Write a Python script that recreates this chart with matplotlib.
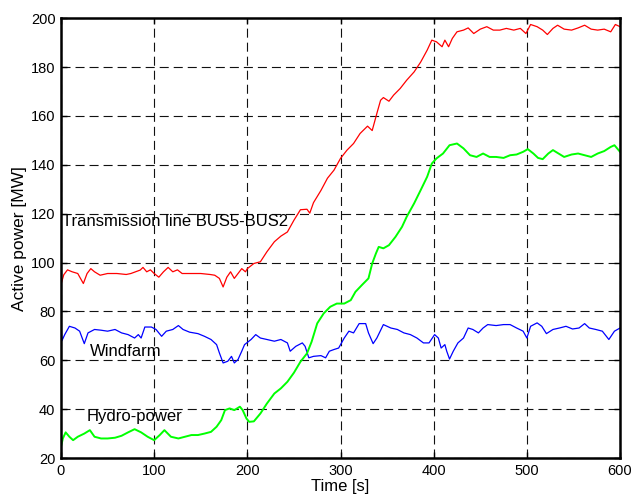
import matplotlib
matplotlib.use("Agg")
import matplotlib.pyplot as plt

plt.rcParams['font.family'] = ['Liberation Sans', 'DejaVu Sans']
plt.rcParams['lines.scale_dashes'] = False

# Transmission line BUS5-BUS2 (red)
t_red = [0, 3, 7, 12, 18, 24, 28, 32, 36, 42, 50, 60, 70, 75, 80, 85, 88, 92, 96, 100,
         105, 110, 115, 120, 125, 130, 140, 150, 160, 165, 170, 174, 178, 182, 186, 190,
         194, 198, 200, 207, 214, 221, 229, 236, 243, 250, 257, 264, 267, 271, 279, 286,
         293, 300, 307, 314, 321, 329, 334, 339, 343, 346, 352, 357, 364, 371, 379, 386,
         393, 398, 403, 409, 412, 416, 420, 425, 432, 437, 443, 450, 457, 464, 471, 478,
         486, 493, 499, 504, 511, 517, 522, 528, 533, 540, 548, 555, 562, 569, 576, 583,
         590, 595, 600]
red = [91, 95, 97, 96.2, 95.5, 91.4, 95.5, 97.5, 96.2, 94.8, 95.5, 95.5, 95.1, 95.5, 96.2,
       96.9, 98, 96.2, 97, 95.5, 94, 96.2, 98, 96.2, 97, 95.5, 95.5, 95.5, 95.1, 94.8, 93.5,
       90, 94, 96.2, 93.5, 95.5, 97.5, 96.2, 97.5, 99.6, 100.3, 104.4, 108.5, 110.8, 112.5,
       117.3, 121.6, 121.8, 120.2, 124.5, 129.5, 134.5, 137.8, 142.6, 146, 148.7, 152.8,
       155.8, 154, 161, 166.4, 167.5, 166, 168.5, 171.2, 174.6, 178, 182, 186.9, 191, 190.3,
       188.3, 191, 188.3, 191.7, 194.4, 195.1, 196, 193.7, 195.5, 196.5, 195.1, 195.1,
       195.8, 195.1, 195.8, 193.7, 197.4, 196.5, 195.1, 193.3, 195.8, 197.1, 195.5, 195.1,
       196, 197.1, 195.5, 195.1, 195.5, 194.4, 197.4, 196.5]

# Windfarm (blue)
t_blue = [0, 1, 4, 9, 15, 20, 25, 29, 36, 43, 50, 58, 65, 72, 79, 83, 86, 90, 97, 102, 108,
          113, 120, 126, 131, 138, 147, 154, 161, 167, 170, 174, 179, 183, 186, 190, 194,
          197, 204, 209, 214, 221, 229, 236, 243, 246, 252, 259, 262, 266, 271, 279, 284,
          288, 293, 298, 304, 309, 314, 320, 327, 330, 335, 339, 346, 354, 361, 368, 375,
          382, 389, 395, 401, 405, 408, 412, 414, 417, 421, 426, 432, 437, 442, 448, 453,
          458, 467, 475, 482, 489, 496, 500, 504, 511, 516, 521, 528, 535, 542, 549, 556,
          562, 567, 574, 581, 588, 594, 600]
blue = [75, 68, 70.5, 73.9, 73.2, 71.9, 66.8, 71.2, 72.6, 72.3, 71.9, 72.6, 71.2, 70.5, 69.1,
        70.5, 69.1, 73.6, 73.6, 72.6, 69.8, 71.9, 72.6, 74.2, 72.6, 71.5, 70.9, 69.8, 68.5,
        66.4, 63, 58.9, 59.6, 61.6, 58.9, 60.3, 63.7, 66.4, 68.5, 70.5, 69.1, 68.5, 67.8,
        68.5, 67.1, 63.7, 65.7, 67.1, 65.7, 61, 61.6, 61.9, 61, 63.7, 64.4, 65, 69.1, 71.9,
        71.2, 75, 75, 71.2, 66.8, 69.1, 74.6, 73.2, 72.6, 71.2, 70.5, 69.1, 67.1, 67.1, 70.5,
        69.1, 65, 66.4, 63.7, 60.5, 63.7, 67.1, 69.1, 73.2, 72.6, 71.2, 73.2, 74.6, 74.2,
        74.6, 74.6, 73.2, 71.9, 69.1, 73.9, 75.3, 73.9, 70.9, 72.6, 73.2, 73.9, 72.8, 73.2,
        75, 73.2, 72.6, 71.9, 68.5, 71.9, 73.2]

# Hydro-power (green)
t_green = [0, 2, 5, 9, 13, 18, 25, 31, 36, 43, 50, 58, 65, 72, 79, 86, 93, 100, 106, 111,
           118, 126, 133, 140, 147, 154, 161, 167, 172, 176, 181, 186, 192, 195, 199, 202,
           207, 214, 221, 229, 236, 243, 250, 257, 264, 269, 275, 282, 289, 296, 304, 311,
           316, 323, 330, 334, 338, 341, 346, 352, 359, 366, 371, 379, 386, 393, 398, 403,
           410, 417, 425, 432, 439, 446, 453, 460, 467, 475, 482, 489, 496, 501, 507, 512,
           517, 523, 528, 534, 540, 548, 555, 562, 569, 576, 583, 590, 594, 600]
green = [24.6, 28, 30.5, 28.7, 27.3, 28.7, 30, 31.4, 28.7, 28, 28, 28.3, 29.1, 30.5, 31.8,
         30.5, 28.7, 27.3, 29.4, 31.4, 28.7, 28, 28.7, 29.4, 29.4, 30, 30.7, 32.8, 35.5,
         39.6, 40.3, 39.6, 41, 39.6, 36.2, 34.8, 35, 38.2, 42.3, 46.4, 48.5, 51.2, 54.9,
         59.4, 62.8, 67.6, 75.1, 79.2, 81.9, 83.2, 83.2, 84.6, 88, 90.8, 93.5, 99.6, 103.7,
         106.4, 105.8, 107.1, 110.5, 114.6, 118.7, 124.2, 129.6, 135.1, 140.5, 142.6, 144.6,
         148, 148.7, 146.7, 143.9, 143.2, 144.6, 143.2, 143.2, 142.8, 143.9, 144.2, 145.3,
         146.4, 144.6, 142.8, 142.3, 144.6, 146, 144.6, 143.2, 144.2, 144.6, 143.9, 143.2,
         144.6, 145.6, 147.3, 148, 145.3]

x_ticks = [0, 100, 200, 300, 400, 500, 600]
y_ticks = [20, 40, 60, 80, 100, 120, 140, 160, 180, 200]

fig = plt.figure(figsize=(6.36, 5.01), dpi=100)
ax = fig.add_axes([0.0959, 0.0858, 0.879, 0.878])

ax.plot(t_red, red, color='#ff0000', lw=0.9)
ax.plot(t_blue, blue, color='#0000ff', lw=0.9)
ax.plot(t_green, green, color='#00ff00', lw=1.4)

ax.set_xlim(0, 600)
ax.set_ylim(20, 200)
ax.set_xticks(x_ticks)
ax.set_yticks(y_ticks)
ax.grid(True, color='#111111', linestyle=(0, (6.5, 3.6)), linewidth=0.8)
ax.tick_params(direction='in', top=True, right=True, length=4, width=1,
               labelsize=10.5, pad=4)
for s in ax.spines.values():
    s.set_linewidth(1.8)

ax.set_xlabel('Time [s]', fontsize=12, labelpad=1)
ax.set_ylabel('Active power [MW]', fontsize=12.5, labelpad=3)

ax.text(1, 116.6, 'Transmission line BUS5-BUS2', fontsize=12, va='center', ha='left')
ax.text(31, 63.4, 'Windfarm', fontsize=12, va='center', ha='left')
ax.text(28, 36.8, 'Hydro-power', fontsize=12, va='center', ha='left')

fig.savefig('out.png', dpi=100)
